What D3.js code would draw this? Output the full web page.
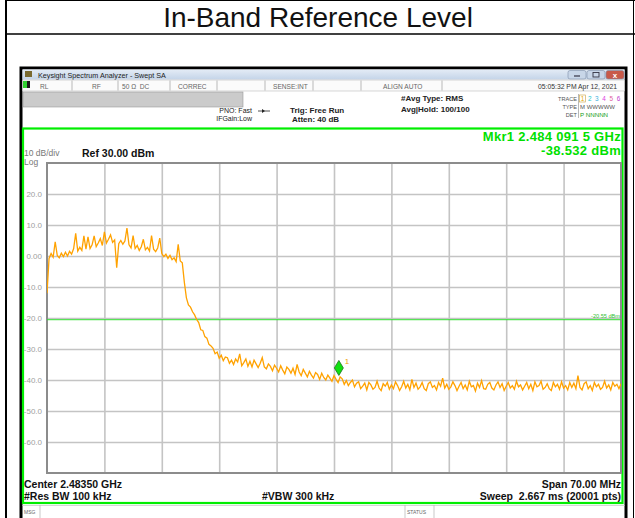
<!DOCTYPE html>
<html>
<head>
<meta charset="utf-8">
<script src="https://cdn.jsdelivr.net/npm/d3@7"></script>
<style>
  body { margin: 0; background: #fff; }
  svg { display: block; font-family: 'Liberation Sans', Arial, sans-serif; }
</style>
</head>
<body>
<div class="canvas"></div>
<script>
// sweep settings (MHz / dBm)
const startMHz = 2448.5;
const stopMHz = 2518.5;
const stepMHz = 0.25;
const refLevel = 30;
const bottomLevel = -70;
const xDivs = 10;

const yTickValues = [20, 10, 0, -10, -20, -30, -40, -50, -60];
const yTickLabels = ['20.0', '10.0', '0.00', '-10.0', '-20.0', '-30.0', '-40.0', '-50.0', '-60.0'];

// trace 1, every 0.25 MHz
const traceDbm = [
    -12.0, -0.8, 0.8, -0.4,   4.6, 0.2, -0.6, 0.9,   -0.2, 1.2, 0.0, 1.5,   0.6, 2.4, 7.3, 1.6,
    2.8, 1.8, 6.5, 2.2,   6.2, 2.4, 3.6, 6.5,   3.0, 4.2, 5.6, 3.4,   7.8, 4.2, 5.4, 6.8,
    4.4, 5.2, -3.8, 4.0,   5.0, 3.8, 4.8, 9.0,   3.6, 2.6, 6.6, 2.4,   3.4, 1.8, 3.0, 5.4,
    2.0, 2.8, 1.6, 6.6,   2.2, 1.4, 2.6, 5.8,   0.8, -0.2, 0.6, -0.8,   0.2, -1.2, -0.6, -1.8,
    3.8, -1.6, -2.2, -8.5,   -13.5, -15.8, -16.5, -18.0,   -19.0, -20.5, -21.5, -23.8,   -24.0, -26.0, -26.5, -28.5,
    -29.0, -29.8, -31.5, -31.0,   -33.0, -32.0, -33.8, -32.6,
    -32.8, -34.6, -33.6, -35.0, -33.2, -34.2, -31.6, -35.4, -34.4, -33.2, -35.6, -34.0, -35.8, -33.6, -34.8, -36.0,
    -34.6, -32.8, -35.8, -36.4, -34.8, -35.6, -37.0, -35.2, -36.2, -37.4, -35.4, -36.8, -38.0, -35.8, -36.6, -37.8,
    -36.2, -38.2, -35.0, -37.4, -38.6, -36.6, -37.8, -39.0, -37.2, -38.4, -39.4, -37.6, -38.2, -39.8, -37.8, -39.2,
    -40.0, -38.4, -39.4, -40.4, -38.6, -39.8, -40.8, -39.0,
    -39.6, -41.4, -40.2, -41.8, -40.8, -40.0, -42.2, -41.0,
    -40.6, -42.8, -42.0, -41.0, -43.2, -40.8, -41.6, -43.0, -42.4, -40.4, -42.6, -43.4, -41.2, -42.0, -40.8, -43.0,
    -41.6, -42.8, -40.6, -41.8, -43.4, -42.2, -40.4, -42.6, -41.4, -43.2, -39.8, -42.4, -41.0, -43.0, -42.2, -40.8,
    -42.8, -43.4, -41.2, -40.6, -42.4, -41.8, -43.2, -40.8, -42.0, -39.4, -42.6, -41.4, -43.0, -42.2, -40.6, -41.8,
    -43.4, -42.0, -40.8, -42.8, -41.6, -43.2, -40.4, -42.2, -41.8, -43.6, -41.0, -42.4, -40.2, -42.8, -43.0, -41.4,
    -40.8, -42.6, -43.2, -41.6, -40.6, -42.4, -41.2, -43.4, -42.0, -40.8, -42.6, -41.8, -43.0, -40.4, -42.2, -41.6,
    -43.2, -42.0, -40.8, -42.8, -41.4, -43.4, -40.6, -42.2, -41.8, -40.4, -43.0, -42.4, -41.2, -42.8, -43.4, -40.8,
    -42.2, -41.4, -43.0, -40.6, -42.6, -41.8, -43.2, -40.8, -42.4, -41.0, -42.8, -38.6, -42.4, -43.2, -41.2, -40.6,
    -42.8, -41.8, -43.4, -40.8, -42.2, -41.4, -43.0, -42.4, -40.4, -42.6, -41.6, -43.2, -40.8, -42.0, -41.4, -42.8, -41.2
];

// marker and display line
const markerMHz = 2484.0915;
const markerDbm = -38.532;
const displayLineDbm = -20.55;

// screen texts
const statusCells = ['RL', 'RF', '50 \u03A9  DC', 'CORREC', 'SENSE:INT', 'ALIGN AUTO'];
const traceNums = ['1', '2', '3', '4', '5', '6'];
const traceColors = ['#e8a800', '#20c8d0', '#40b0e0', '#e040e0', '#e060a0', '#c040d0'];

const W = 635, H = 518;

const svg = d3.select('.canvas')
    .append('svg')
    .attr('width', W)
    .attr('height', H);

// page table (title cell)
svg.append('rect').attr('width', W).attr('height', H).attr('fill', '#fff');
svg.append('line').attr('x1', 5).attr('x2', W).attr('y1', 0.5).attr('y2', 0.5)
    .attr('stroke', '#000').attr('stroke-width', 1);
svg.append('line').attr('x1', 6).attr('x2', 6).attr('y1', 0).attr('y2', H)
    .attr('stroke', '#000').attr('stroke-width', 2);
svg.append('line').attr('x1', 633.5).attr('x2', 633.5).attr('y1', 0).attr('y2', H)
    .attr('stroke', '#000').attr('stroke-width', 1);
svg.append('line').attr('x1', 5).attr('x2', W).attr('y1', 34).attr('y2', 34)
    .attr('stroke', '#000').attr('stroke-width', 1.5);
svg.append('text')
    .attr('x', 318).attr('y', 27)
    .attr('text-anchor', 'middle')
    .attr('font-size', 28)
    .attr('fill', '#111')
    .text('In-Band Reference Level');

// screenshot window frame
const win = svg.append('g');
win.append('rect').attr('x', 21).attr('y', 68).attr('width', 605).attr('height', 460)
    .attr('fill', '#fff').attr('stroke', '#000').attr('stroke-width', 3);

// title bar
const grad = svg.append('defs').append('linearGradient')
    .attr('id', 'tbar').attr('x1', 0).attr('x2', 0).attr('y1', 0).attr('y2', 1);
grad.append('stop').attr('offset', 0).attr('stop-color', '#e4ecf6');
grad.append('stop').attr('offset', 1).attr('stop-color', '#c4d4e8');
win.append('rect').attr('x', 22.5).attr('y', 69.5).attr('width', 602).attr('height', 10)
    .attr('fill', 'url(#tbar)');
win.append('rect').attr('x', 25).attr('y', 71).attr('width', 7).attr('height', 6)
    .attr('fill', '#7a6a30');
win.append('text').attr('x', 38).attr('y', 77.5).attr('font-size', 7.2).attr('fill', '#222')
    .text('Keysight Spectrum Analyzer - Swept SA');
[[568, '#c8d6e8'], [587, '#c8d6e8'], [606, '#c85a4a']].forEach(([bx, c]) => {
    win.append('rect').attr('x', bx).attr('y', 70.5).attr('width', 18).attr('height', 8.5)
        .attr('rx', 2).attr('fill', c).attr('stroke', '#7d8ea8').attr('stroke-width', 0.6);
});
win.append('line').attr('x1', 574).attr('x2', 580).attr('y1', 76).attr('y2', 76).attr('stroke', '#334').attr('stroke-width', 1.2);
win.append('rect').attr('x', 593).attr('y', 72.5).attr('width', 6).attr('height', 4.5).attr('fill', 'none').attr('stroke', '#334').attr('stroke-width', 0.9);
win.append('text').attr('x', 615).attr('y', 78).attr('text-anchor', 'middle').attr('font-size', 8)
    .attr('font-weight', 'bold').attr('fill', '#fff').text('x');

// status row
win.append('rect').attr('x', 22.5).attr('y', 80).attr('width', 602).attr('height', 11)
    .attr('fill', '#fbfbfb').attr('stroke', '#bbb').attr('stroke-width', 0.6);
win.append('rect').attr('x', 23).attr('y', 81).attr('width', 7).attr('height', 7).attr('fill', '#1a1a1a');
win.append('rect').attr('x', 23).attr('y', 81).attr('width', 4).attr('height', 7).attr('fill', '#30d030');
[72, 118, 170, 217, 265, 313, 361, 442].forEach(sx => {
    win.append('line').attr('x1', sx).attr('x2', sx).attr('y1', 80.5).attr('y2', 90.5)
        .attr('stroke', '#aaa').attr('stroke-width', 0.8);
});
const statusX = [40, 92, 122, 178, 273, 383];
statusCells.forEach((t, i) => {
    win.append('text').attr('x', statusX[i]).attr('y', 89).attr('font-size', 6.6)
        .attr('fill', '#666').attr('xml:space', 'preserve').text(t);
});
win.append('text').attr('x', 617).attr('y', 89).attr('text-anchor', 'end')
    .attr('font-size', 6.8).attr('fill', '#333').text('05:05:32 PM Apr 12, 2021');

// grey message bar
win.append('rect').attr('x', 23).attr('y', 92).attr('width', 220).attr('height', 15)
    .attr('fill', '#cbcbcb').attr('stroke', '#999').attr('stroke-width', 0.6);

// settings block
win.append('text').attr('x', 252).attr('y', 113).attr('text-anchor', 'end')
    .attr('font-size', 7).attr('fill', '#222').text('PNO: Fast');
win.append('text').attr('x', 252).attr('y', 121).attr('text-anchor', 'end')
    .attr('font-size', 7).attr('fill', '#222').text('IFGain:Low');
win.append('line').attr('x1', 258).attr('x2', 270).attr('y1', 111).attr('y2', 111)
    .attr('stroke', '#222').attr('stroke-width', 0.8);
win.append('path').attr('d', 'M262,109 L265,111 L262,113 Z').attr('fill', '#222');
win.append('text').attr('x', 290).attr('y', 113).attr('font-size', 8).attr('font-weight', 'bold')
    .attr('fill', '#222').text('Trig: Free Run');
win.append('text').attr('x', 292).attr('y', 121.5).attr('font-size', 8).attr('font-weight', 'bold')
    .attr('fill', '#222').text('Atten: 40 dB');
win.append('text').attr('x', 401).attr('y', 101).attr('font-size', 8).attr('font-weight', 'bold')
    .attr('fill', '#222').text('#Avg Type: RMS');
win.append('text').attr('x', 401).attr('y', 112).attr('font-size', 8).attr('font-weight', 'bold')
    .attr('fill', '#222').text('Avg|Hold: 100/100');

// trace table
[['TRACE', 100.5], ['TYPE', 108.5], ['DET', 116.5]].forEach(([t, ty]) => {
    win.append('text').attr('x', 577).attr('y', ty).attr('text-anchor', 'end')
        .attr('font-size', 5.6).attr('fill', '#555').text(t);
});
win.append('line').attr('x1', 578.5).attr('x2', 578.5).attr('y1', 94).attr('y2', 118)
    .attr('stroke', '#888').attr('stroke-width', 0.6);
win.append('rect').attr('x', 579.5).attr('y', 95).attr('width', 6).attr('height', 7)
    .attr('fill', 'none').attr('stroke', '#c8a040').attr('stroke-width', 0.6);
traceNums.forEach((t, i) => {
    win.append('text').attr('x', 582.5 + i * 7.2).attr('y', 100.8).attr('text-anchor', 'middle')
        .attr('font-size', 6.4).attr('fill', traceColors[i]).text(t);
});
win.append('text').attr('x', 580).attr('y', 108.8).attr('font-size', 6).attr('fill', '#555')
    .text('M WWWWW');
win.append('text').attr('x', 580).attr('y', 117).attr('font-size', 6.2).attr('fill', '#20a020')
    .text('P NNNNN');

// green display frame
win.append('rect').attr('x', 23).attr('y', 128.5).attr('width', 599.5).attr('height', 374.5)
    .attr('fill', 'none').attr('stroke', '#00ee00').attr('stroke-width', 2.2);

// scales
const margin = { left: 47, right: 621, top: 163, bottom: 473 };
const x = d3.scaleLinear().domain([startMHz, stopMHz]).range([margin.left, margin.right]);
const y = d3.scaleLinear().domain([bottomLevel, refLevel]).range([margin.bottom, margin.top]);

const graph = svg.append('g');

// grid via axes
const xGridVals = d3.range(1, xDivs).map(i => startMHz + i * (stopMHz - startMHz) / xDivs);
const xGrid = graph.append('g')
    .attr('transform', `translate(0, ${margin.bottom})`)
    .call(d3.axisBottom(x).tickValues(xGridVals).tickSize(-(margin.bottom - margin.top)).tickFormat(''));
const yGrid = graph.append('g')
    .attr('transform', `translate(${margin.left}, 0)`)
    .call(d3.axisLeft(y).tickValues(yTickValues).tickSize(-(margin.right - margin.left)).tickFormat(''));
[xGrid, yGrid].forEach(g => {
    g.select('.domain').remove();
    g.selectAll('line').attr('stroke', '#c4c4c4').attr('stroke-width', 1.6);
});

// y labels
const yAxis = graph.append('g')
    .attr('transform', `translate(${margin.left - 2}, 0)`)
    .call(d3.axisLeft(y).tickValues(yTickValues).tickSize(0).tickFormat((d, i) => yTickLabels[i]));
yAxis.select('.domain').remove();
yAxis.selectAll('text')
    .attr('font-family', "'Liberation Sans', Arial, sans-serif")
    .attr('font-size', 8)
    .attr('fill', '#a0a0a0')
    .attr('dx', 0);

// plot border
graph.append('rect')
    .attr('x', margin.left).attr('y', margin.top)
    .attr('width', margin.right - margin.left).attr('height', margin.bottom - margin.top)
    .attr('fill', 'none').attr('stroke', '#8c8c8c').attr('stroke-width', 2);

// display line
graph.append('line')
    .attr('x1', margin.left).attr('x2', margin.right)
    .attr('y1', y(displayLineDbm)).attr('y2', y(displayLineDbm))
    .attr('stroke', '#30e030').attr('stroke-width', 1);
graph.append('text')
    .attr('x', margin.right - 1).attr('y', y(displayLineDbm) - 1.5)
    .attr('text-anchor', 'end').attr('font-size', 5.6).attr('fill', '#30c030')
    .text('-20.55 dBm');

// trace
svg.append('clipPath').attr('id', 'plotclip').append('rect')
    .attr('x', margin.left).attr('y', margin.top)
    .attr('width', margin.right - margin.left).attr('height', margin.bottom - margin.top);
const line = d3.line()
    .x((d, i) => x(startMHz + i * stepMHz))
    .y(d => y(d));
graph.append('path')
    .datum(traceDbm)
    .attr('clip-path', 'url(#plotclip)')
    .attr('d', line)
    .attr('fill', 'none')
    .attr('stroke', '#ffa200')
    .attr('stroke-width', 1.3);

// marker 1
const mx = x(markerMHz), my = y(markerDbm);
graph.append('path')
    .attr('d', `M${mx},${my} L${mx + 4.5},${my - 7.5} L${mx},${my - 15} L${mx - 4.5},${my - 7.5} Z`)
    .attr('fill', '#10e010').attr('stroke', '#207020').attr('stroke-width', 0.8);
graph.append('text')
    .attr('x', mx + 6).attr('y', my - 11)
    .attr('font-size', 8).attr('fill', '#f0a000').text('1');

// annotations in the display
const ann = svg.append('g').attr('fill', '#111');
ann.append('text').attr('x', 24).attr('y', 156).attr('font-size', 8.5).attr('fill', '#777').text('10 dB/div');
ann.append('text').attr('x', 24).attr('y', 164.5).attr('font-size', 8.5).attr('fill', '#777').text('Log');
ann.append('text').attr('x', 82).attr('y', 157).attr('font-size', 10.5).attr('font-weight', 'bold').text('Ref 30.00 dBm');
ann.append('text').attr('x', 621).attr('y', 140.5).attr('text-anchor', 'end')
    .attr('font-size', 13).attr('letter-spacing', 0.3).attr('font-weight', 'bold').attr('fill', '#00e000').text('Mkr1 2.484 091 5 GHz');
ann.append('text').attr('x', 621).attr('y', 155).attr('text-anchor', 'end')
    .attr('font-size', 13).attr('letter-spacing', 0.3).attr('font-weight', 'bold').attr('fill', '#00e000').text('-38.532 dBm');
ann.append('text').attr('x', 24).attr('y', 488).attr('font-size', 10.5).attr('font-weight', 'bold').text('Center 2.48350 GHz');
ann.append('text').attr('x', 24).attr('y', 499.5).attr('font-size', 10.5).attr('font-weight', 'bold').text('#Res BW 100 kHz');
ann.append('text').attr('x', 262).attr('y', 499.5).attr('font-size', 10.5).attr('font-weight', 'bold').text('#VBW 300 kHz');
ann.append('text').attr('x', 621).attr('y', 488).attr('text-anchor', 'end').attr('font-size', 10.5).attr('font-weight', 'bold').text('Span 70.00 MHz');
ann.append('text').attr('x', 621).attr('y', 499.5).attr('text-anchor', 'end').attr('font-size', 10.5).attr('font-weight', 'bold')
    .attr('xml:space', 'preserve').text('Sweep  2.667 ms (20001 pts)');

// message / status row
win.append('line').attr('x1', 22).attr('x2', 625).attr('y1', 505.5).attr('y2', 505.5).attr('stroke', '#bbb').attr('stroke-width', 0.6);
[40, 405, 434].forEach(sx => {
    win.append('line').attr('x1', sx).attr('x2', sx).attr('y1', 505).attr('y2', H)
        .attr('stroke', '#bbb').attr('stroke-width', 0.8);
});
win.append('text').attr('x', 24).attr('y', 514).attr('font-size', 5).attr('fill', '#666').text('MSG');
win.append('text').attr('x', 407).attr('y', 514).attr('font-size', 5).attr('fill', '#666').text('STATUS');
</script>
</body>
</html>
